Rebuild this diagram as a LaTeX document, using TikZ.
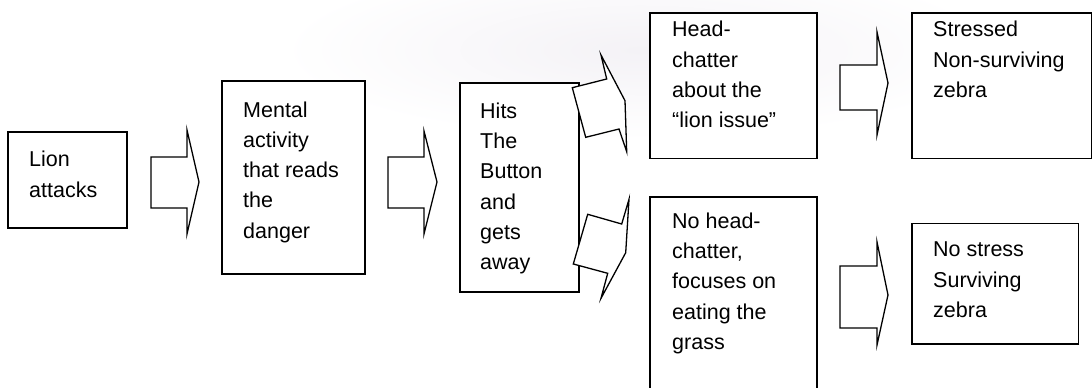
\documentclass[tikz,border=0pt]{standalone}
\usepackage{fontspec}
\setmainfont{Liberation Sans}
\definecolor{wm}{RGB}{244,242,246}
\tikzset{
  box/.style={draw=black, line width=1.6pt, fill=white},
  blockarrow/.style={draw=black, line width=1.3pt, fill=white, line join=miter},
  txt/.style={anchor=base west, inner sep=0pt, font=\fontsize{21.5}{30.3}\selectfont}
}
\newcommand{\boxtext}[1]{\parbox[t]{6cm}{\raggedright #1}}
\begin{document}
\begin{tikzpicture}[x=1pt, y=-1pt]
\useasboundingbox (0,0) rectangle (1092,388);
\clip (0,0) rectangle (1092,388);
\fill[white] (0,0) rectangle (1092,388);
% faint watermark
\shade[inner color=wm, outer color=white] (640,50) ellipse [x radius=360, y radius=90];
% boxes
\draw[box] (8,132) rectangle (127,228);
\node[txt] (lion) at (29,166.7) {\boxtext{Lion\\attacks}};
\draw[box] (222,81) rectangle (365,274);
\node[txt] (mental) at (243,117) {\boxtext{Mental\\activity\\that reads\\the\\danger}};
\draw[box] (460,83) rectangle (579,292);
\node[txt] (hits) at (480,118.3) {\boxtext{Hits\\The\\Button\\and\\gets\\away}};
\draw[box] (650,12.7) rectangle (817,158.3);
\node[txt] (head) at (672,36.7) {\boxtext{Head-\\chatter\\about the\\\char"201C lion issue\char"201D}};
\draw[box] (912,12.7) rectangle (1091.5,158.3);
\node[txt] (stressed) at (933,36.7) {\boxtext{Stressed\\Non-surviving\\zebra}};
\draw[box] (650,197) rectangle (817,400);
\node[txt] (nohead) at (672,228.3) {\boxtext{No head-\\chatter,\\focuses on\\eating the\\grass}};
\draw[box] (912,223.3) rectangle (1078.3,344);
\node[txt] (nostress) at (933,256.7) {\boxtext{No stress\\Surviving\\zebra}};
% block arrows
\draw[blockarrow] (151,157) -- (187,157) -- (187,130) -- (199,182) -- (187,234) -- (187,208) -- (151,208) -- cycle;
\draw[blockarrow] (388,157) -- (424,157) -- (424,131) -- (437,182) -- (424,234) -- (424,208) -- (388,208) -- cycle;
\draw[blockarrow] (840,65) -- (877,65) -- (877,32) -- (888,83) -- (877,135) -- (877,110) -- (840,110) -- cycle;
\draw[blockarrow] (840,266) -- (877,266) -- (877,242) -- (888,295) -- (877,345) -- (877,328) -- (840,328) -- cycle;
% skewed arrows from the Hits box
\draw[blockarrow] (572.3,87.7) -- (606.7,79) -- (601,55) -- (625,100.7) -- (626.7,151.7) -- (619,129) -- (585.7,137.3) -- cycle;
\draw[blockarrow] (587.7,214.3) -- (621.7,224) -- (629,199.3) -- (625.7,252.7) -- (601,298.3) -- (607.7,273.3) -- (573.3,264) -- cycle;
\end{tikzpicture}
\end{document}
